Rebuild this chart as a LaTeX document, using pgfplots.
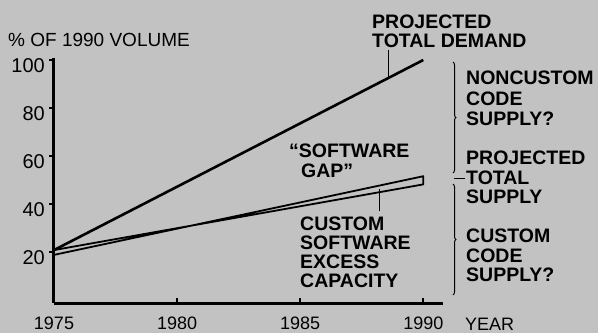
\documentclass[border=0pt]{standalone}
\usepackage{fontspec}
\setmainfont{Liberation Sans}
\usepackage{pgfplots}
\pgfplotsset{compat=1.18}
\usetikzlibrary{decorations.pathreplacing}
\definecolor{bg}{RGB}{194,194,194}
\begin{document}
\begin{tikzpicture}
\path[use as bounding box, fill=bg] (0pt,0pt) rectangle (598pt,333pt);
\begin{axis}[at={(54pt,30pt)}, anchor=south west, scale only axis,
  width=389pt, height=245.4pt,
  xmin=1975, xmax=1990.8, ymin=-1, ymax=101,
  axis lines=left, axis line style={-, line width=3pt},
  clip=false,
  tick align=outside, major tick length=5pt,
  tick style={line width=2pt, black},
  x tick style={yshift=5pt},
  xtick={1975,1980,1985,1990}, xticklabels={1975,1980,1985,1990},
  ytick={20,40,60,80,100}, yticklabels={20,40,60,80,100},
  yticklabel style={font=\fontsize{20}{20}\selectfont, anchor=east, inner sep=0pt, xshift=-4pt, yshift=-5.5pt},
  xticklabel style={font=\fontsize{18}{18}\selectfont, anchor=base, inner sep=0pt, yshift=-21pt},
]
\addplot[black, line width=2.6pt] coordinates {(1975,21) (1990,100)};
\addplot[black, line width=1.8pt, line join=round] coordinates {(1975,21) (1990,48.3) (1990,51.7) (1975,19)};
\end{axis}
\begin{scope}[x=1pt, y=1pt, every node/.style={inner sep=0pt, anchor=base west}]
\def\B{\fontsize{19.5}{19.5}\selectfont\bfseries}
\node[font=\fontsize{19}{19}\selectfont] at (8,333-46) {\% OF 1990 VOLUME};
\node[font=\fontsize{18}{18}\selectfont] at (465,333-330) {YEAR};
\node[font=\B] at (372,333-28) {PROJECTED};
\node[font=\B] at (372,333-48) {TOTAL DEMAND};
\draw[line width=1pt] (388,333-50) -- (388,333-77);
\node[font=\B] at (466,333-85) {NONCUSTOM};
\node[font=\B] at (466,333-105) {CODE};
\node[font=\B] at (466,333-125) {SUPPLY?};
\node[font=\B] at (466,333-164) {PROJECTED};
\node[font=\B] at (466,333-184) {TOTAL};
\node[font=\B] at (466,333-203) {SUPPLY};
\draw[line width=1pt] (454,333-178) -- (465,333-178);
\node[font=\B] at (466,333-242) {CUSTOM};
\node[font=\B] at (466,333-262) {CODE};
\node[font=\B] at (466,333-281) {SUPPLY?};
\node[font=\B] at (300,333-230) {CUSTOM};
\node[font=\B] at (300,333-249) {SOFTWARE};
\node[font=\B] at (300,333-268) {EXCESS};
\node[font=\B] at (300,333-287) {CAPACITY};
\draw[line width=1pt] (379,333-189) -- (379,333-211);
\node[font=\B] at (289,333-157) {``SOFTWARE};
\node[font=\B] at (301,333-177) {GAP''};
\draw[line width=1pt, decorate, decoration={brace, amplitude=3pt}] (453,333-62) -- (453,333-173);
\draw[line width=1pt, decorate, decoration={brace, amplitude=3pt}] (453,333-184) -- (453,333-295);
\end{scope}
\end{tikzpicture}
\end{document}
